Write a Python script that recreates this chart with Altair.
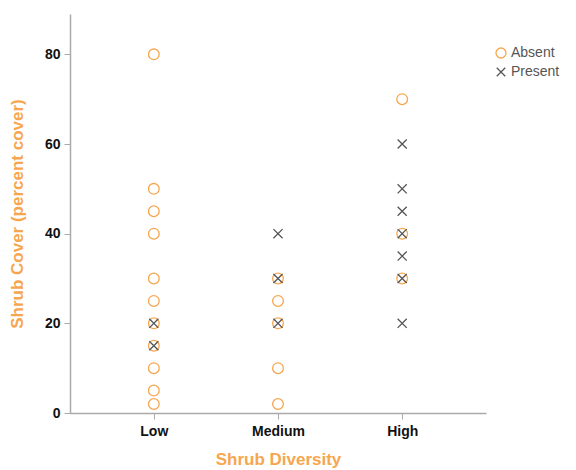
import altair as alt
import pandas as pd

diversity = ["Low", "Medium", "High"]
low_absent = [80, 50, 45, 40, 30, 25, 20, 15, 10, 5, 2]
low_present = [20, 15]
medium_absent = [30, 25, 20, 10, 2]
medium_present = [40, 30, 20]
high_absent = [70, 40, 30]
high_present = [60, 50, 45, 40, 35, 30, 20]

rows = []
for cat, ab, pr in [("Low", low_absent, low_present),
                    ("Medium", medium_absent, medium_present),
                    ("High", high_absent, high_present)]:
    for v in ab:
        rows.append({"Diversity": cat, "Cover": v, "Group": "Absent", "ord": 0})
    for v in pr:
        rows.append({"Diversity": cat, "Cover": v, "Group": "Present", "ord": 1})
df = pd.DataFrame(rows)

orange = "#F7A650"
gray = "#555555"
xshape = "M-0.85,-0.85L0.85,0.85M-0.85,0.85L0.85,-0.85"

chart = alt.Chart(df).mark_point(filled=False, strokeWidth=1.3, size=115, opacity=1).encode(
    x=alt.X("Diversity:N", sort=diversity,
            scale=alt.Scale(type="point", padding=0.675),
            axis=alt.Axis(title="Shrub Diversity", labelAngle=0)),
    y=alt.Y("Cover:Q", scale=alt.Scale(domain=[0, 89], nice=False, zero=True),
            axis=alt.Axis(title="Shrub Cover (percent cover)", values=[0, 20, 40, 60, 80])),
    color=alt.Color("Group:N", scale=alt.Scale(domain=["Absent", "Present"], range=[orange, gray]),
                    legend=alt.Legend(title=None, orient="none", legendX=424, legendY=32,
                                      labelFont="Liberation Sans", labelFontSize=14,
                                      labelColor="#555555", symbolSize=100, rowPadding=4,
                                      labelOffset=3, symbolStrokeWidth=1.3)),
    shape=alt.Shape("Group:N", scale=alt.Scale(domain=["Absent", "Present"], range=["circle", xshape])),
    order=alt.Order("ord:Q"),
).properties(
    width=416, height=399,
    padding={"left": 62, "top": 6, "right": 82, "bottom": 59},
    autosize=alt.AutoSizeParams(type="none"),
).configure_view(stroke=None).configure_axis(
    grid=False,
    domainColor="#AAAAAA",
    domainWidth=1.5,
    tickColor="#AAAAAA",
    tickSize=6,
    labelFont="Liberation Sans",
    labelFontSize=14,
    labelFontWeight="bold",
    labelColor="#111111",
    titleFont="Liberation Sans",
    titleFontSize=17,
    titleColor=orange,
    titleFontWeight="bold",
).configure_axisX(labelPadding=5, titlePadding=13).configure_axisY(labelPadding=4, titlePadding=18)

chart.save("out.html", embed_options={"renderer": "svg", "actions": False})
